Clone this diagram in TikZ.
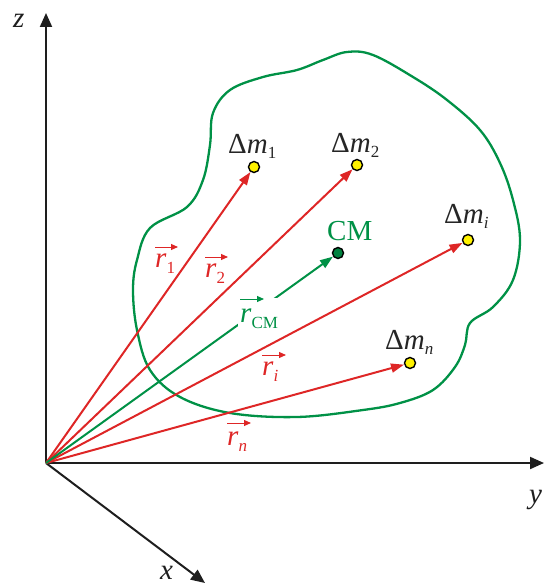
\documentclass[tikz,border=0pt]{standalone}
\usepackage{fontspec}
\setmainfont{Liberation Serif}
\usetikzlibrary{arrows.meta}
\definecolor{vred}{RGB}{222,38,38}
\definecolor{vgreen}{RGB}{0,145,70}
\definecolor{axgray}{RGB}{30,30,30}
\newcommand{\dmass}[1]{Δ\textit{m}\raisebox{-5pt}{\fontsize{17}{17}\selectfont #1}}
\newcommand{\rsub}[1]{\textit{r}\raisebox{-6pt}{\fontsize{17}{17}\selectfont #1}}
\begin{document}
\begin{tikzpicture}[x=1pt,y=-1pt,
  every node/.style={font=\fontsize{29}{31}\selectfont},
  axis/.style={draw=axgray,line width=2pt,-{Triangle[length=14pt,width=12pt]}},
  vec/.style={draw=vred,line width=2pt,-{Triangle[length=13pt,width=9pt]}},
  cmvec/.style={vec,draw=vgreen},
  dot/.style={circle,draw=black,line width=1.4pt,fill=yellow,minimum size=11pt,inner sep=0},
  cmdot/.style={dot,fill=vgreen!90!black},
  masslab/.style={anchor=base west,inner sep=0,text=black!85},
  rlab/.style={anchor=base west,inner sep=0,text=vred},
  overarr/.style={draw=vred,line width=1pt,-{Triangle[length=7pt,width=6pt]}},
  axlab/.style={anchor=base west,inner sep=0,text=axgray},
  blob/.style={draw=vgreen,line width=2.3pt}
]
\useasboundingbox (0,0) rectangle (544,585);
% body outline
\draw[blob] plot[smooth cycle, tension=0.6] coordinates {
 (213,113) (230,90) (263,77) (297,70) (323,60) (347,52) (373,55) (413,77)
 (447,100) (480,130) (500,163) (513,200) (520,240) (513,280) (493,307)
 (470,323) (465,345) (455,367) (433,390) (400,403) (363,410) (297,417)
 (230,413) (180,397) (150,370) (137,330) (133,290) (137,260) (150,228)
 (187,207) (203,180) (210,145)};
% axes
\coordinate (O) at (46,463);
\coordinate (zend) at (46,13);
\coordinate (yend) at (544,463);
\coordinate (xend) at (205,583);
\draw[axis] (O) -- (zend);
\draw[axis] (O) -- (yend);
\draw[axis] (O) -- (xend);
\node[axlab] (lz) at (13,28) {\textit{z}};
\node[axlab] (ly) at (529,503) {\textit{y}};
\node[axlab] (lx) at (160,579) {\textit{x}};
% mass points
\node[dot] (m1) at (254,167) {};
\node[dot] (m2) at (357,165) {};
\node[dot] (mi) at (468,240) {};
\node[dot] (mn) at (410,363) {};
\node[cmdot] (cm) at (338,253) {};
% vectors
\draw[vec] (O) -- (m1);
\draw[vec] (O) -- (m2);
\draw[vec] (O) -- (mi);
\draw[vec] (O) -- (mn);
\draw[cmvec] (O) -- (cm);
% mass labels
\node[masslab] (lm1) at (228,154) {\dmass{1}};
\node[masslab] (lm2) at (331,153) {\dmass{2}};
\node[masslab] (lmi) at (444,223) {\dmass{\textit{i}}};
\node[masslab] (lmn) at (385,349) {\dmass{\textit{n}}};
\node[masslab,text=vgreen] (lcm) at (327,240) {CM};
% vector labels
\node[rlab] (lr1) at (155,267) {\rsub{1}};
\draw[overarr] ([yshift=20pt]lr1.base west) -- ++(23,0);
\node[rlab] (lr2) at (205,277) {\rsub{2}};
\draw[overarr] ([yshift=20pt]lr2.base west) -- ++(23,0);
\node[rlab] (lri) at (262,375) {\rsub{\textit{i}}};
\draw[overarr] ([yshift=20pt]lri.base west) -- ++(24,0);
\node[rlab] (lrn) at (227,445) {\rsub{\textit{n}}};
\draw[overarr] ([yshift=22pt]lrn.base west) -- ++(24,0);
\node[rlab,text=vgreen,fill=white,inner sep=2pt,text height=22pt,text depth=5pt] (lrcm) at (238,322) {\rsub{CM}};
\draw[overarr,draw=vgreen] ([xshift=2pt,yshift=23pt]lrcm.base west) -- ++(24,0);
\end{tikzpicture}
\end{document}
